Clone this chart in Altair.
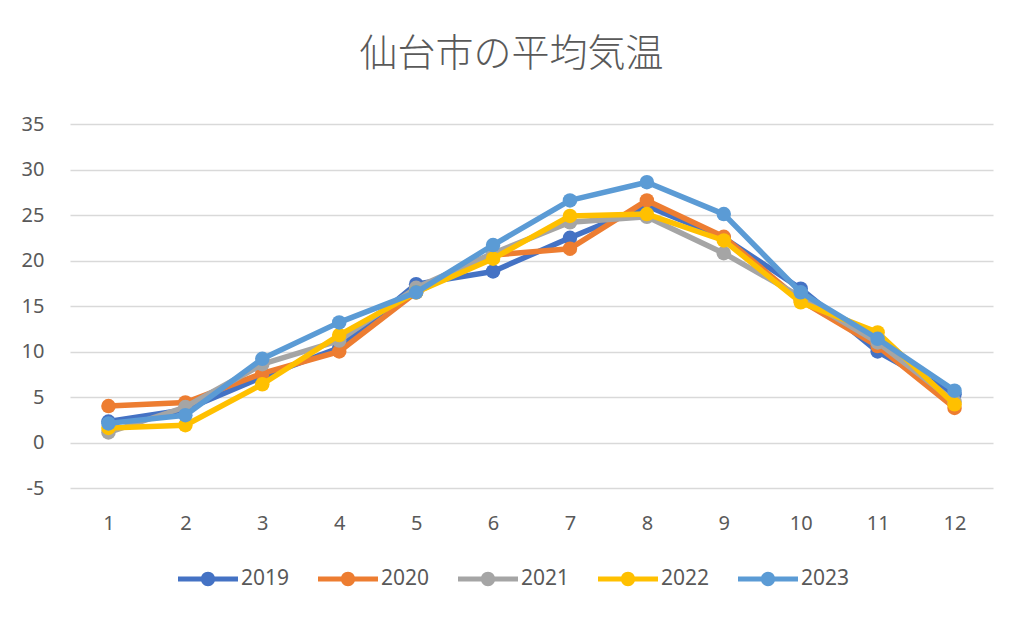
import altair as alt
import pandas as pd

months = [1, 2, 3, 4, 5, 6, 7, 8, 9, 10, 11, 12]
years = ["2019", "2020", "2021", "2022", "2023"]
t2019 = [2.3, 3.6, 7.2, 10.4, 17.4, 18.8, 22.5, 26.0, 22.5, 16.9, 10.0, 5.3]
t2020 = [4.0, 4.4, 7.6, 10.0, 16.5, 20.6, 21.3, 26.6, 22.6, 15.6, 10.6, 3.8]
t2021 = [1.1, 3.9, 8.6, 11.2, 17.0, 20.8, 24.2, 24.8, 20.8, 16.0, 11.0, 4.5]
t2022 = [1.6, 1.9, 6.4, 11.8, 16.5, 20.2, 24.9, 25.1, 22.2, 15.4, 12.1, 4.2]
t2023 = [2.1, 3.0, 9.2, 13.2, 16.5, 21.7, 26.6, 28.6, 25.1, 16.5, 11.4, 5.7]
colors = ["#4472C4", "#ED7D31", "#A5A5A5", "#FFC000", "#5B9BD5"]
y_ticks = [-5, 0, 5, 10, 15, 20, 25, 30, 35]

series = [t2019, t2020, t2021, t2022, t2023]
rows = []
for yr, vals in zip(years, series):
    for m, v in zip(months, vals):
        rows.append({"month": m, "year": yr, "temp": v})
df = pd.DataFrame(rows)

color_scale = alt.Scale(domain=years, range=colors)
x_enc = alt.X("month:O", scale=alt.Scale(type="point", padding=0.5),
              axis=alt.Axis(title=None, labelAngle=0, domain=False, ticks=False,
                            grid=False, labelPadding=25, labelFontSize=20,
                            labelColor="#595959", labelFont="Noto Sans"))
y_enc = alt.Y("temp:Q", scale=alt.Scale(domain=[-5, 35], nice=False, zero=False),
              axis=alt.Axis(title=None, values=y_ticks, domain=False, ticks=False,
                            grid=True, gridColor="#d9d9d9", gridWidth=1.3,
                            labelPadding=26, labelFontSize=20,
                            labelExpr="'' + datum.value",
                            labelColor="#595959", labelFont="Noto Sans"))

legend_path = ("M-1,-0.085 L-0.2,-0.085 L-0.2,0.085 L-1,0.085 Z "
               "M0.2,-0.085 L1,-0.085 L1,0.085 L0.2,0.085 Z "
               "M-0.24,0 A0.24,0.24 0 1,1 0.24,0 A0.24,0.24 0 1,1 -0.24,0 Z")

legend = alt.Legend(title=None, orient="none", direction="horizontal",
                    legendX=108, legendY=425,
                    symbolType=legend_path, symbolSize=3600,
                    symbolStrokeWidth=0, symbolOpacity=1,
                    labelFontSize=21, labelColor="#595959",
                    labelFont="Noto Sans", labelOffset=3,
                    columnPadding=28, padding=0)

layers = []
for yr in years:
    base = alt.Chart(df).transform_filter(alt.datum.year == yr)
    line = base.mark_line(strokeWidth=5.5, strokeCap="round", strokeJoin="round").encode(
        x=x_enc, y=y_enc,
        color=alt.Color("year:N", scale=color_scale, legend=legend),
    )
    pts = base.mark_point(filled=True, size=210, opacity=1, shape="circle").encode(
        x=x_enc, y=y_enc,
        color=alt.Color("year:N", scale=color_scale, legend=legend),
    )
    layers += [line, pts]

chart = alt.layer(*layers).properties(
    width=923, height=364,
    title=alt.Title("仙台市の平均気温", font="Noto Sans CJK JP", fontSize=38,
                    fontWeight=300, color="#595959", anchor="middle",
                    offset=40, dx=-20),
    autosize=alt.AutoSizeParams(type="none"),
    padding={"left": 62, "top": 116, "right": 23, "bottom": 124},
    background="white",
).configure_view(stroke=None)

chart.save("out.html", embed_options={"renderer": "svg", "actions": False})
